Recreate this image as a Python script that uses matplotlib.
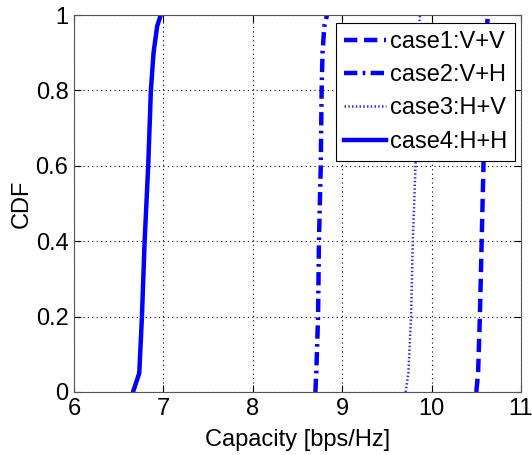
import matplotlib
matplotlib.use("Agg")
import matplotlib.pyplot as plt

cdf = [0.0, 0.05, 0.2, 0.4, 0.6, 0.8, 0.9, 0.97, 1.0]
case1_x = [10.50, 10.52, 10.54, 10.56, 10.58, 10.60, 10.61, 10.62, 10.63]
case2_x = [8.70, 8.71, 8.73, 8.74, 8.76, 8.77, 8.78, 8.80, 8.83]
case3_x = [9.71, 9.74, 9.77, 9.79, 9.82, 9.84, 9.85, 9.86, 9.87]
case4_x = [6.66, 6.73, 6.76, 6.79, 6.83, 6.86, 6.89, 6.93, 6.97]
labels = ["case1:V+V", "case2:V+H", "case3:H+V", "case4:H+H"]
xticks = [6, 7, 8, 9, 10, 11]
yticks = [0, 0.2, 0.4, 0.6, 0.8, 1]

plt.rcParams['font.family'] = ['Liberation Sans', 'DejaVu Sans']
W, H = 532, 455
fig = plt.figure(figsize=(W/100, H/100), dpi=100)
L, R, T, B = 74, 521, 15, 392
ax = fig.add_axes([L/W, 1 - B/H, (R-L)/W, (B-T)/H])
blue = '#0000ff'
ax.plot(case1_x, cdf, color=blue, lw=3.2, ls=(0, (3, 1.5)), label=labels[0])
ax.plot(case2_x, cdf, color=blue, lw=3.2, ls=(0, (3, 1.2, 0.6, 1.2)), label=labels[1])
ax.plot(case3_x, cdf, color='#3030e0', lw=1.8, ls=(0, (0.6, 0.9)), label=labels[2])
ax.plot(case4_x, cdf, color=blue, lw=3.2, ls='-', label=labels[3])

ax.set_xlim(6, 11)
ax.set_ylim(0, 1)
ax.set_xticks(xticks)
ax.set_yticks(yticks)
ax.set_yticklabels(['0', '0.2', '0.4', '0.6', '0.8', '1'])
ax.tick_params(direction='in', top=True, right=True, labelsize=17, length=5, pad=4)
for s in ax.spines.values():
    s.set_color('#555555')
ax.grid(True, color='black', ls=(0, (1, 3)), lw=0.8)
ax.set_xlabel('Capacity [bps/Hz]', fontsize=17, labelpad=6.5)
ax.set_ylabel('CDF', fontsize=17, labelpad=2)
leg = ax.legend(loc='upper right', bbox_to_anchor=((515-L)/(R-L), 1 - (23-T)/(B-T)),
                fontsize=17, frameon=True, fancybox=False,
                edgecolor='black', framealpha=1, handlelength=1.8, handletextpad=0.15,
                borderpad=0.33, labelspacing=0.48, borderaxespad=0.0)
leg.get_frame().set_linewidth(0.8)
fig.savefig('out.png', dpi=100)
